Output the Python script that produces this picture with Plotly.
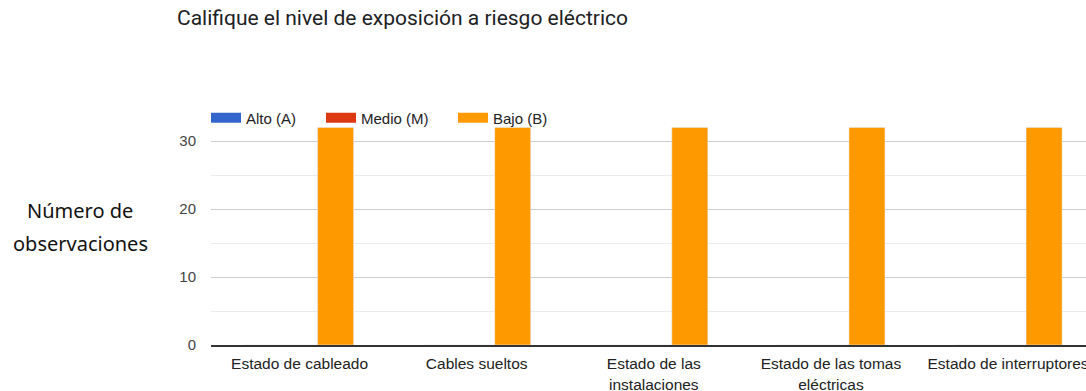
import plotly.graph_objects as go

categories = ["Estado de cableado", "Cables sueltos", "Estado de las<br>instalaciones",
              "Estado de las tomas<br>eléctricas", "Estado de interruptores"]
series_names = ["Alto (A)", "Medio (M)", "Bajo (B)"]
alto = [0, 0, 0, 0, 0]
medio = [0, 0, 0, 0, 0]
bajo = [32, 32, 32, 32, 32]
colors = ["#3366cc", "#dc3912", "#ff9900"]

fig = go.Figure()
for name, vals, col in zip(series_names, [alto, medio, bajo], colors):
    fig.add_trace(go.Bar(name=name, x=categories, y=vals, marker_color=col,
                         showlegend=False))
# legend entries drawn as wide rectangles (thick line samples), one legend each
legend_ids = ["legend", "legend2", "legend3"]
legend_px = [211, 326, 458]
for name, col, lid in zip(series_names, colors, legend_ids):
    fig.add_trace(go.Scatter(name=name, x=[None], y=[None], mode="lines",
                             line=dict(color=col, width=13), showlegend=True, legend=lid))

leg_common = dict(orientation="h", xanchor="left", y=(345 - 118) / 238, yanchor="middle",
                  bgcolor="rgba(0,0,0,0)", font=dict(size=15, color="#222"), borderwidth=0)
legends = {lid: dict(leg_common, x=(px - 216) / 875) for lid, px in zip(legend_ids, legend_px)}

fig.update_layout(
    width=1086, height=391,
    margin=dict(l=211, r=0, t=107, b=46, autoexpand=False),
    paper_bgcolor="white", plot_bgcolor="white",
    barmode="group", bargap=0.39, bargroupgap=0,
    font=dict(family="Liberation Sans, Arial, sans-serif", size=15, color="#222"),
    title=dict(text="Califique el nivel de exposición a riesgo eléctrico",
               x=177/1086, xanchor="left", xref="container",
               y=1 - 18/391, yanchor="middle", yref="container",
               font=dict(family="Roboto, sans-serif", size=21, color="#202124")),
    showlegend=True,
    **legends,
)
fig.update_xaxes(range=[-0.5, 4.44], showgrid=False, showline=True, linecolor="#333",
                 linewidth=1.5, ticks="", tickfont=dict(size=15.5, color="#222"),
                 ticklabelstandoff=4, automargin=False)
fig.update_yaxes(range=[0, 35], dtick=10, showgrid=True, gridcolor="#cccccc", gridwidth=1,
                 zeroline=False, showline=False, ticks="", automargin=False,
                 tickfont=dict(size=15, color="#444"), ticklabelstandoff=14,
                 minor=dict(dtick=5, showgrid=True, gridcolor="#ebebeb", gridwidth=1))

for txt, ypix in [("Número de", 210), ("observaciones", 243)]:
    fig.add_annotation(text=txt, xref="paper", yref="paper",
                       x=-131/875, y=(345 - ypix) / 238, xanchor="center", yanchor="middle",
                       showarrow=False, align="center",
                       font=dict(family="Noto Sans, sans-serif", size=20, color="#111"))

fig.write_html("out.html")
